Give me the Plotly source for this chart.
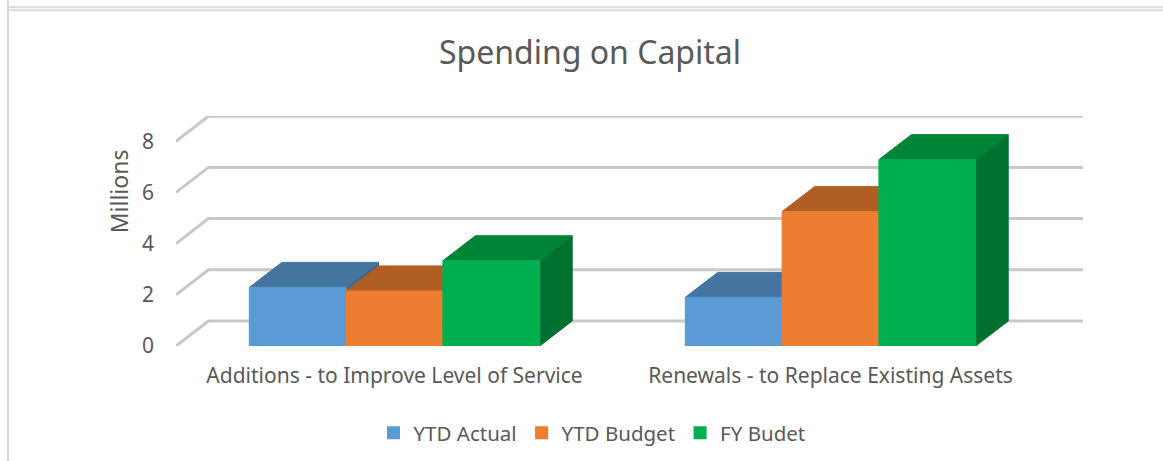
import plotly.graph_objects as go

categories = ["Additions - to Improve Level of Service", "Renewals - to Replace Existing Assets"]
ytd_actual = [2.29, 1.90]
ytd_budget = [2.15, 5.25]
fy_budet = [3.33, 7.28]
tick_values = [0, 2, 4, 6, 8]

W, H = 1163, 461
L, R, T, B = 176.0, 1083.0, 115.7, 345.7
PX_PER_UNIT_Y = 25.6
PX_PER_CAT = 436.0
CENTER0 = 394.5
YMAX = (B - T) / PX_PER_UNIT_Y
XMIN = (L - CENTER0) / PX_PER_CAT
XMAX = (R - CENTER0) / PX_PER_CAT
DX = 32.5 / PX_PER_CAT
DY = 25.0 / PX_PER_UNIT_Y
BAR_W = 96.8 / PX_PER_CAT
FONT = "Noto Sans"
TEXT = "#595959"

series = [
    ("YTD Actual", ytd_actual, "#5B9BD5", "#44749F", "#3A6590"),
    ("YTD Budget", ytd_budget, "#ED7D31", "#B15E24", "#98501F"),
    ("FY Budet", fy_budet, "#00B050", "#008438", "#00702F"),
]

fig = go.Figure()

# depth gridlines: front-left stub, then along the back wall
gx, gy = [], []
for v in tick_values:
    gx += [XMIN, XMIN + DX, XMAX, None]
    gy += [v, v + DY, v + DY, None]
fig.add_trace(go.Scatter(x=gx, y=gy, mode="lines", line=dict(color="#c8c8c8", width=3),
                         showlegend=False, hoverinfo="skip", cliponaxis=False))


def face(xs, ys, color, edge=None):
    fig.add_trace(go.Scatter(
        x=xs + xs[:1], y=ys + ys[:1], mode="lines", fill="toself", fillcolor=color,
        line=dict(color=edge or color, width=1), showlegend=False,
        hoverinfo="skip", cliponaxis=False))


for c in range(len(categories)):
    for s, (name, vals, front, top, side) in enumerate(series):
        v = vals[c]
        x0 = c + (s - 1.5) * BAR_W
        x1 = x0 + BAR_W
        face([x1, x1 + DX, x1 + DX, x1], [0, DY, v + DY, v], side)
        face([x0, x1, x1 + DX, x0 + DX], [v, v, v + DY, v + DY], top)
        face([x0, x1, x1, x0], [0, 0, v, v], front)

for name, vals, front, top, side in series:
    fig.add_trace(go.Scatter(x=[None], y=[None], mode="markers", name=name,
                             marker=dict(symbol="square", size=13, color=front)))


def px(x):
    return (x - L) / (R - L)


def py(y):
    return (B - y) / (B - T)


line = dict(color="#d9d9d9", width=2)
shapes = [
    dict(type="line", xref="paper", yref="paper", x0=px(8), x1=px(8), y0=py(0), y1=py(H), line=line),
    dict(type="line", xref="paper", yref="paper", x0=px(8), x1=px(W), y0=py(7), y1=py(7), line=line),
    dict(type="line", xref="paper", yref="paper", x0=px(8), x1=px(W), y0=py(10), y1=py(10), line=line),
]

fig.update_layout(
    width=W, height=H, autosize=False,
    margin=dict(l=L, r=W - R, t=T, b=H - B, pad=0),
    paper_bgcolor="white", plot_bgcolor="rgba(0,0,0,0)",
    font=dict(family=FONT, color=TEXT, size=20),
    title=dict(text="Spending on Capital", x=590 / W, xanchor="center", xref="container",
               y=1 - 53 / H, yanchor="middle", yref="container",
               font=dict(family=FONT, size=32, color=TEXT)),
    xaxis=dict(range=[XMIN, XMAX], tickvals=[0, 1], ticktext=categories, showgrid=False,
               zeroline=False, showline=False, ticks="", ticklabelstandoff=15,
               tickfont=dict(family=FONT, size=21, color=TEXT), automargin=False),
    yaxis=dict(range=[0, YMAX], tickvals=tick_values, showgrid=False, zeroline=False,
               showline=False, ticks="", ticklabelstandoff=21,
               tickfont=dict(family=FONT, size=21, color=TEXT), automargin=False),
    legend=dict(orientation="h", xref="container", yref="container", x=592 / W, xanchor="center",
                y=1 - 433 / H, yanchor="middle",
                font=dict(family=FONT, size=20.5, color=TEXT), bgcolor="rgba(0,0,0,0)"),
    annotations=[dict(text="Millions", xref="paper", yref="paper", x=px(119), y=py(191),
                      xanchor="center", yanchor="middle", textangle=-90, showarrow=False,
                      font=dict(family=FONT, size=23, color=TEXT))],
    shapes=shapes,
)

fig.write_html("out.html", config=dict(displayModeBar=False),
               post_script="document.body.style.margin='0';")
